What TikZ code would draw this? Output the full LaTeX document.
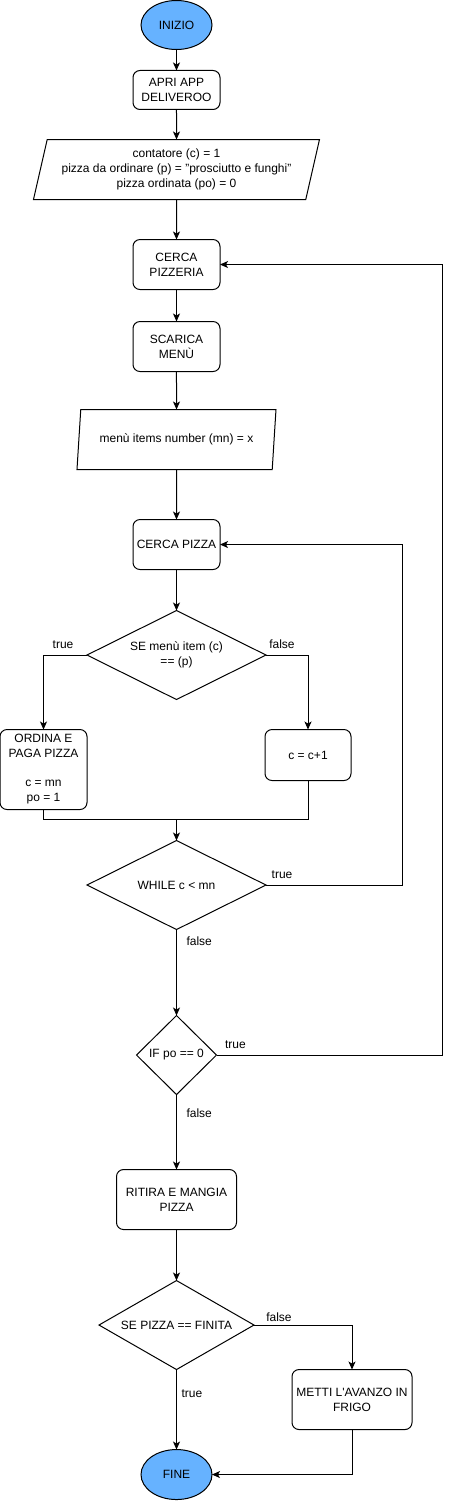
\documentclass[tikz,border=0pt]{standalone}
\usepackage{fontspec}
\setmainfont{Liberation Sans}
\usetikzlibrary{arrows.meta,positioning,shapes.geometric}
\definecolor{startblue}{HTML}{66B2FF}
\tikzset{
    %Define standard arrow tip
    >={Stealth[length=8pt,width=7pt,inset=2pt]},
    testo/.style={font=\fontsize{12}{15}\selectfont, outer sep=0pt},
    terminale/.style={
      ellipse,
      draw=black, fill=startblue,
      minimum width=71pt, minimum height=49pt,
      inner sep=0pt, testo},
    blocco/.style={
      rectangle,
      rounded corners=7pt,
      draw=black,
      minimum width=87pt,
      minimum height=50pt,
      inner sep=0pt,
      align=center, testo},
    dati/.style={
      trapezium,
      trapezium left angle=71.57, trapezium right angle=108.43,
      trapezium stretches body,
      draw=black,
      minimum height=60pt,
      inner sep=0pt,
      align=center, testo},
    scelta/.style={
      diamond, shape aspect=2,
      draw=black,
      minimum width=179pt, minimum height=89pt,
      inner sep=0pt,
      align=center, testo},
    etichetta/.style={
      inner sep=1pt, text height=9pt, text depth=3pt, testo},
}

\begin{document}
\begin{tikzpicture}[x=1pt, y=-1pt, line width=1pt]
    \useasboundingbox (0,0) rectangle (451,1501);
    \coordinate (giroA) at (402,0);
    \coordinate (giroB) at (442,0);
    \node (inizio) [terminale] at (176.5,25)
          {INIZIO};
    \node (apri) [blocco, minimum height=39pt] [below=21pt of inizio]
          {APRI APP\\DELIVEROO}
          edge [<-] (inizio);
    \node (var1) [dati, minimum width=286pt] [below=30pt of apri]
          {contatore (c) = 1\\pizza da ordinare (p) = "prosciutto e funghi"\\pizza ordinata (po) = 0}
          edge [<-] (apri);
    \node (pizzeria) [blocco] [below=40pt of var1]
          {CERCA\\PIZZERIA}
          edge [<-] (var1);
    \node (menu) [blocco] [below=32pt of pizzeria]
          {SCARICA\\MENÙ}
          edge [<-] (pizzeria);
    \node (var2) [dati, minimum width=199pt] [below=38pt of menu]
          {menù items number (mn) = x}
          edge [<-] (menu);
    \node (pizza) [blocco] [below=50pt of var2]
          {CERCA PIZZA}
          edge [<-] (var2);
    \node (se1) [scelta] [below=41pt of pizza]
          {SE menù item (c)\\== (p)}
          edge [<-] (pizza);
    \node (ordina) [blocco, minimum height=80pt] [below left=74.5pt and 0pt of se1.west]
          {ORDINA E\\PAGA PIZZA\\[14pt]c = mn\\po = 1};
    \node (incr) [blocco, minimum width=86pt, minimum height=51pt] [below right=74.5pt and -1pt of se1.east]
          {c = c+1};
    \draw [->] (se1.west) -- (se1.west -| ordina) node [etichetta, pos=0.55, above=3pt] {true} -- (ordina);
    \draw [->] (se1.east) -- (se1.east -| incr) node [etichetta, pos=0.38, above=3pt] {false} -- (incr);
    \node (while) [scelta] [below=141pt of se1]
          {WHILE c < mn};
    \coordinate [above=21pt of while.north] (unione);
    \draw (ordina.south) |- (unione);
    \draw (incr.south) |- (unione);
    \draw [->] (unione) -- (while);
    \draw [->] (while.east) -- (while.east -| giroA) node [etichetta, pos=0.118, above=3pt] {true}
          |- (pizza.east);
    \node (ifpo) [scelta, shape aspect=1, minimum width=80pt, minimum height=79pt] [below=86pt of while]
          {IF po == 0}
          edge [<-] node [etichetta, pos=0.85, right=9pt] {false} (while);
    \draw [->] (ifpo.east) -- (ifpo.east -| giroB) node [etichetta, pos=0.084, above=2.5pt] {true}
          |- (pizzeria.east);
    \node (ritira) [blocco, minimum width=120pt, minimum height=60pt] [below=75pt of ifpo]
          {RITIRA E MANGIA\\PIZZA}
          edge [<-] node [etichetta, pos=0.73, right=9pt] {false} (ifpo);
    \node (sepizza) [scelta, minimum width=155pt] [below=51pt of ritira]
          {SE PIZZA == FINITA}
          edge [<-] (ritira);
    \node (metti) [blocco, minimum width=120pt, minimum height=60pt] [below right=44.5pt and 38pt of sepizza.east]
          {METTI L\textquotesingle AVANZO IN\\FRIGO};
    \draw [->] (sepizza.east) -- (sepizza.east -| metti) node [etichetta, pos=0.255, above=0pt] {false} -- (metti);
    \node (fine) [terminale, minimum height=50pt] [below=80pt of sepizza]
          {FINE}
          edge [<-] node [etichetta, pos=0.69, right=4pt] {true} (sepizza);
    \draw [->] (metti.south) |- (fine.east);
\end{tikzpicture}
\end{document}
